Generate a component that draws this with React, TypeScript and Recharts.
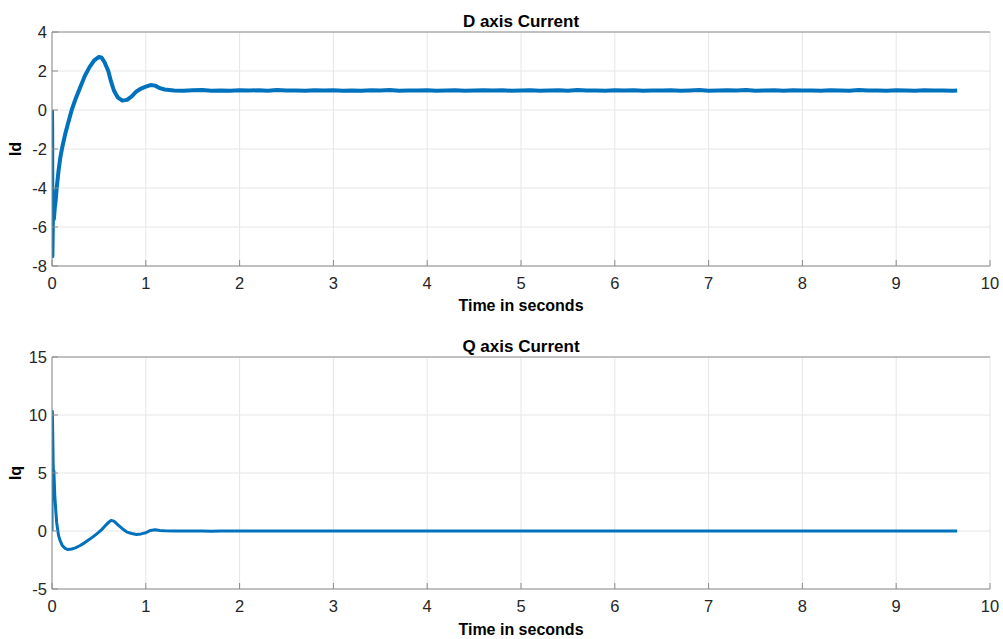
import React from 'react';
import {
	LineChart, Line, XAxis, YAxis, CartesianGrid, Label,
} from 'recharts';

// time samples (s) for the start-up transient, then the settled part
const transientTime = [
	0, 0.002, 0.004, 0.008, 0.012, 0.016, 0.02, 0.03, 0.04, 0.05,
	0.07, 0.09, 0.11, 0.14, 0.17, 0.21, 0.25, 0.3, 0.35, 0.4,
	0.45, 0.5, 0.53, 0.56, 0.6, 0.63, 0.66, 0.7, 0.75, 0.8,
	0.85, 0.9, 0.95, 1.0, 1.05, 1.1, 1.15, 1.2,
];
const steadyTime = [
	1.3, 1.4, 1.5, 1.6, 1.7, 1.8, 1.9, 2.0, 2.1, 2.2, 2.3, 2.4, 2.5, 2.6, 2.7, 2.8, 2.9,
	3.0, 3.1, 3.2, 3.3, 3.4, 3.5, 3.6, 3.7, 3.8, 3.9, 4.0, 4.1, 4.2, 4.3, 4.4, 4.5, 4.6,
	4.7, 4.8, 4.9, 5.0, 5.1, 5.2, 5.3, 5.4, 5.5, 5.6, 5.7, 5.8, 5.9, 6.0, 6.1, 6.2, 6.3,
	6.4, 6.5, 6.6, 6.7, 6.8, 6.9, 7.0, 7.1, 7.2, 7.3, 7.4, 7.5, 7.6, 7.7, 7.8, 7.9, 8.0,
	8.1, 8.2, 8.3, 8.4, 8.5, 8.6, 8.7, 8.8, 8.9, 9.0, 9.1, 9.2, 9.3, 9.4, 9.5, 9.6, 9.65,
];

const idTransient = [
	0, -1.0, -7.5, -6.2, -4.2, -5.5, -5.6, -5.0, -4.6, -4.0,
	-3.1, -2.4, -1.9, -1.25, -0.7, 0.0, 0.55, 1.15, 1.75, 2.2,
	2.55, 2.72, 2.68, 2.45, 2.0, 1.45, 1.0, 0.65, 0.48, 0.52,
	0.7, 0.95, 1.1, 1.2, 1.28, 1.25, 1.12, 1.05,
];
const idSteady = [
	1.0, 0.99, 1.01, 1.02, 0.99, 1.0, 0.99, 1.01, 1.0, 1.01, 0.99, 1.02, 1.0, 1.0, 0.99, 1.01, 1.0,
	1.01, 0.99, 1.0, 0.99, 1.01, 1.0, 1.02, 0.99, 1.0, 1.0, 1.01, 0.99, 1.0, 1.01, 0.99, 1.0, 1.01,
	1.0, 1.01, 0.99, 1.0, 1.01, 0.99, 1.0, 1.01, 0.99, 1.02, 1.0, 1.0, 0.99, 1.01, 1.0, 1.01, 0.99,
	1.0, 1.0, 1.01, 0.99, 1.0, 1.02, 0.99, 1.0, 1.01, 1.0, 1.02, 0.99, 1.0, 1.01, 0.99, 1.01, 1.0,
	1.0, 0.99, 1.01, 1.0, 0.99, 1.02, 1.0, 1.0, 0.99, 1.01, 1.0, 0.99, 1.01, 1.0, 1.0, 0.99, 1.0,
];

const iqTransient = [
	0, 8.0, 10.3, 8.2, 6.0, 4.5, 5.2, 3.0, 1.8, 0.7,
	-0.4, -0.9, -1.25, -1.5, -1.6, -1.55, -1.45, -1.25, -1.0, -0.72,
	-0.42, -0.1, 0.12, 0.38, 0.72, 0.92, 0.85, 0.55, 0.2, -0.1,
	-0.22, -0.3, -0.25, -0.15, 0.05, 0.1, 0.05, 0.02,
];
const iqSteady = [
	0.0, 0.01, -0.01, 0.0, -0.02, 0.01, 0.0, -0.01, 0.0, -0.01, 0.0, 0.01, -0.01, 0.0, 0.01, -0.01, 0.0,
	0.0, -0.01, 0.0, 0.01, -0.01, 0.0, 0.01, -0.01, 0.0, 0.0, -0.01, 0.0, 0.01, -0.01, 0.0, 0.01, 0.0,
	0.0, 0.01, -0.01, 0.0, 0.0, -0.01, 0.0, 0.01, -0.01, 0.0, -0.01, 0.0, 0.0, -0.01, 0.01, 0.0, -0.01,
	0.0, 0.0, -0.01, 0.01, 0.0, -0.01, 0.0, 0.0, -0.01, 0.01, 0.0, -0.01, 0.0, 0.0, -0.01, 0.01, 0.0,
	-0.01, 0.01, 0.0, -0.01, 0.0, 0.0, -0.01, 0.01, 0.0, -0.01, 0.0, 0.0, -0.01, 0.01, 0.0, -0.01, 0.0,
];

const timeTicks = [0, 1, 2, 3, 4, 5, 6, 7, 8, 9, 10];
const idTicks = [-8, -6, -4, -2, 0, 2, 4];
const iqTicks = [-5, 0, 5, 10, 15];

const time = [...transientTime, ...steadyTime];
const idData = time.map((t, i) => ({ t, v: [...idTransient, ...idSteady][i] }));
const iqData = time.map((t, i) => ({ t, v: [...iqTransient, ...iqSteady][i] }));

const LINE = '#0072BD';
const BOX = '#8c8c8c';
const TEXT = '#262626';

const YLabel = (props: any) => {
	const vb = props.viewBox;
	const cy = vb.y + vb.height / 2;
	return (
		<text x={15} y={cy} transform={`rotate(-90, 15, ${cy})`} textAnchor="middle"
			dominantBaseline="central" fontWeight="bold" fontSize={16} fill="#000">
			{props.value}
		</text>
	);
};

interface PanelProps {
	data: { t: number; v: number }[];
	title: string;
	yName: string;
	yDomain: [number, number];
	yTicks: number[];
	height: number;
	topH: number;
	bottomH: number;
	labelOffset: number;
	lineWidth: number;
}

function Panel({ data, title, yName, yDomain, yTicks, height, topH, bottomH, labelOffset, lineWidth }: PanelProps) {
	return (
		<LineChart width={1003} height={height} data={data}
			margin={{ top: 0, right: 13, bottom: 0, left: 0 }}>
			<CartesianGrid stroke="#e6e6e6" />
			<XAxis dataKey="t" type="number" domain={[0, 10]} ticks={timeTicks} interval={0}
				allowDataOverflow height={bottomH} stroke={BOX} tickSize={-6} tickMargin={17}
				tick={{ fill: TEXT, fontSize: 16.5 }}>
				<Label value="Time in seconds" position="insideBottom" offset={labelOffset}
					fontWeight="bold" fontSize={16} fill="#000" />
			</XAxis>
			<XAxis xAxisId="top" orientation="top" type="number" domain={[0, 10]} ticks={timeTicks}
				interval={0} allowDataOverflow height={topH} stroke={BOX} tickSize={-6} tick={false}>
				<Label value={title} position="insideBottom" offset={5}
					fontWeight="bold" fontSize={17} fill="#000" />
			</XAxis>
			<YAxis type="number" domain={yDomain} ticks={yTicks} interval={0} allowDataOverflow
				width={52} stroke={BOX} tickSize={-6} tickMargin={11}
				tick={{ fill: TEXT, fontSize: 16.5 }}
				label={{ value: yName, content: YLabel }} />
			<YAxis yAxisId="right" orientation="right" type="number" domain={yDomain} ticks={yTicks}
				interval={0} allowDataOverflow width={0} stroke={BOX} tickSize={-6} tick={false} />
			<Line type="linear" dataKey="v" stroke={LINE} strokeWidth={lineWidth} dot={false}
				strokeLinejoin="round" isAnimationActive={false} />
		</LineChart>
	);
}

export default function App() {
	return (
		<div style={{ position: 'absolute', left: 0, top: 0, width: 1003, height: 639,
			background: '#fff', fontFamily: '"Liberation Sans", Arial, sans-serif' }}>
			<Panel data={idData} title="D axis Current" yName="Id" yDomain={[-8, 4]} yTicks={idTicks}
				height={320} topH={32} bottomH={54} labelOffset={9} lineWidth={4} />
			<Panel data={iqData} title="Q axis Current" yName="Iq" yDomain={[-5, 15]} yTicks={iqTicks}
				height={319} topH={37} bottomH={50} labelOffset={4} lineWidth={3} />
		</div>
	);
}
